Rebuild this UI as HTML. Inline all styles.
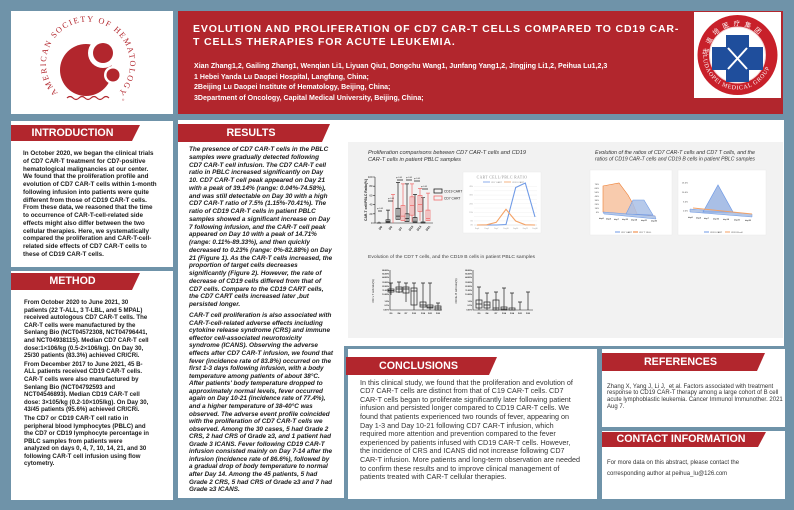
<!DOCTYPE html>
<html><head><meta charset="utf-8">
<style>
*{margin:0;padding:0;box-sizing:border-box}
body{width:794px;height:510px;background:#6f93a9;position:relative;overflow:hidden;font-family:"Liberation Sans",Arial,sans-serif}
.p{position:absolute;background:#fff}
.bar{position:absolute;background:#b2262d;clip-path:polygon(0 0,100% 0,calc(100% - 8px) 100%,0 100%);color:#fff;font-weight:bold;font-size:10.7px;text-align:center;white-space:nowrap;padding-right:6px}
.t{position:absolute;white-space:nowrap;color:#1c1c1c}
</style></head><body>

<!-- panels -->
<div class="p" style="left:11px;top:11px;width:162px;height:103px"></div>
<div class="p" style="left:178px;top:11px;width:605px;height:103px;background:#b2262d"></div>
<div class="p" style="left:11px;top:121px;width:162px;height:146px"></div>
<div class="p" style="left:11px;top:271px;width:162px;height:229px"></div>
<div class="p" style="left:178px;top:120px;width:606px;height:226px"></div>
<div class="p" style="left:178px;top:300px;width:166px;height:198px"></div>
<div class="p" style="left:348px;top:349px;width:249px;height:150px"></div>
<div class="p" style="left:602px;top:349px;width:183px;height:78px"></div>
<div class="p" style="left:602px;top:431px;width:183px;height:68px"></div>

<!-- title -->
<div class="t" style="left:193px;top:22.5px;color:#fff;font-weight:bold;font-size:10.5px;letter-spacing:0.85px;line-height:13px">EVOLUTION AND PROLIFERATION OF CD7 CAR-T CELLS COMPARED TO CD19 CAR-<br>T CELLS THERAPIES FOR ACUTE LEUKEMIA.</div>
<div class="t" style="left:194px;top:62px;color:#fff;font-weight:bold;font-size:7.05px;line-height:10.5px">Xian Zhang1,2, Gailing Zhang1, Wenqian Li1, Liyuan Qiu1, Dongchu Wang1, Junfang Yang1,2, Jingjing Li1,2, Peihua Lu1,2,3<br>1 Hebei Yanda Lu Daopei Hospital, Langfang, China;<br>2Beijing Lu Daopei Institute of Hematology, Beijing, China;<br>3Department of Oncology, Capital Medical University, Beijing, China;</div>

<!-- header bars -->
<div class="bar" style="left:11px;top:125px;width:129px;height:16px;line-height:16px">INTRODUCTION</div>
<div class="bar" style="left:11px;top:273px;width:129px;height:17px;line-height:17px">METHOD</div>
<div class="bar" style="left:178px;top:124px;width:152px;height:18px;line-height:18px">RESULTS</div>
<div class="bar" style="left:346px;top:357px;width:151px;height:18px;line-height:18px">CONCLUSIONS</div>
<div class="bar" style="left:602px;top:353px;width:163px;height:18px;line-height:18px">REFERENCES</div>
<div class="bar" style="left:602px;top:432px;width:164px;height:15px;line-height:15px">CONTACT INFORMATION</div>

<!-- intro -->
<div class="t" style="left:23px;top:150px;font-weight:bold;font-size:6.3px;line-height:7.75px">In October 2020, we began the clinical trials<br>of CD7 CAR-T treatment for CD7-positive<br>hematological malignancies at our center.<br>We found that the proliferation profile and<br>evolution of CD7 CAR-T cells within 1-month<br>following infusion into patients were quite<br>different from those of CD19 CAR-T cells.<br>From these data, we reasoned that the time<br>to occurrence of CAR-T-cell-related side<br>effects might also differ between the two<br>cellular therapies. Here, we systematically<br>compared the proliferation and CAR-T-cell-<br>related side effects of CD7 CAR-T cells to<br>these of CD19 CAR-T cells.</div>

<!-- method -->
<div class="t" style="left:24px;top:299px;font-weight:bold;font-size:6.1px;line-height:7.6px">
<div>From October 2020 to June 2021, 30<br>patients (22 T-ALL, 3 T-LBL, and 5 MPAL)<br>received autologous CD7 CAR-T cells. The<br>CAR-T cells were manufactured by the<br>Senlang Bio (NCT04572308, NCT04796441,<br>and NCT04938115). Median CD7 CAR-T cell<br>dose:1×106/kg (0.5-2×106/kg). On Day 30,<br>25/30 patients (83.3%) achieved CR/CRi.</div>
<div style="margin-top:1px">From December 2017 to June 2021, 45 B-<br>ALL patients received CD19 CAR-T cells.<br>CAR-T cells were also manufactured by<br>Senlang Bio (NCT04792593 and<br>NCT04546893). Median CD19 CAR-T cell<br>dose: 3×105/kg (0.2-10×105/kg). On Day 30,<br>43/45 patients (95.6%) achieved CR/CRi.</div>
<div style="margin-top:1px">The CD7 or CD19 CAR-T cell ratio in<br>peripheral blood lymphocytes (PBLC) and<br>the CD7 or CD19 lymphocyte percentage in<br>PBLC samples from patients were<br>analyzed on days 0, 4, 7, 10, 14, 21, and 30<br>following CAR-T cell infusion using flow<br>cytometry.</div>
</div>

<!-- results -->
<div class="t" style="left:189px;top:146px;font-weight:bold;font-style:italic;font-size:6.4px;line-height:7.75px">The presence of CD7 CAR-T cells in the PBLC<br>samples were gradually detected following<br>CD7 CAR-T cell infusion. The CD7 CAR-T cell<br>ratio in PBLC increased significantly on Day<br>10. CD7 CAR-T cell peak appeared on Day 21<br>with a peak of 39.14% (range: 0.04%-74.58%),<br>and was still detectable on Day 30 with a high<br>CD7 CAR-T ratio of 7.5% (1.15%-70.41%). The<br>ratio of CD19 CAR-T cells in patient PBLC<br>samples showed a significant increase on Day<br>7 following infusion, and the CAR-T cell peak<br>appeared on Day 10 with a peak of 14.71%<br>(range: 0.11%-89.33%), and then quickly<br>decreased to 0.23% (range: 0%-82.88%) on Day<br>21 (Figure 1). As the CAR-T cells increased, the<br>proportion of target cells decreases<br>significantly (Figure 2). However, the rate of<br>decrease of CD19 cells differed from that of<br>CD7 cells. Compare to the CD19 CART cells,<br>the CD7 CART cells increased later ,but<br>persisted longer.</div>
<div class="t" style="left:189px;top:312.2px;font-weight:bold;font-style:italic;font-size:6.4px;line-height:7.57px">CAR-T cell proliferation is also associated with<br>CAR-T-cell-related adverse effects including<br>cytokine release syndrome (CRS) and immune<br>effector cell-associated neurotoxicity<br>syndrome (ICANS). Observing the adverse<br>effects after CD7 CAR-T infusion, we found that<br>fever (incidence rate of 83.8%) occurred on the<br>first 1-3 days following infusion, with a body<br>temperature among patients of about 38°C.<br>After patients' body temperature dropped to<br>approximately normal levels, fever occurred<br>again on Day 10-21 (incidence rate of 77.4%),<br>and a higher temperature of 38-40°C was<br>observed. The adverse event profile coincided<br>with the proliferation of CD7 CAR-T cells we<br>observed. Among the 30 cases, 5 had Grade 2<br>CRS, 2 had CRS of Grade ≥3, and 1 patient had<br>Grade 3 ICANS. Fever following CD19 CAR-T<br>infusion consisted mainly on Day 7-14 after the<br>infusion (incidence rate of 86.6%), followed by<br>a gradual drop of body temperature to normal<br>after Day 14. Among the 45 patients, 5 had<br>Grade 2 CRS, 5 had CRS of Grade ≥3 and 7 had<br>Grade ≥3 ICANS.</div>

<!-- conclusions -->
<div class="t" style="left:360px;top:378.7px;font-size:7.2px;line-height:8.6px;color:#333">In this clinical study, we found that the proliferation and evolution of<br>CD7 CAR-T cells are distinct from that of C19 CAR-T cells. CD7<br>CAR-T cells began to proliferate significantly later following patient<br>infusion and persisted longer compared to CD19 CAR-T cells. We<br>found that patients experienced two rounds of fever, appearing on<br>Day 1-3 and Day 10-21 following CD7 CAR-T infusion, which<br>required more attention and prevention compared to the fever<br>experienced by patients infused with CD19 CAR-T cells. However,<br>the incidence of CRS and ICANS did not increase following CD7<br>CAR-T infusion. More patients and long-term observation are needed<br>to confirm these results and to improve clinical management of<br>patients treated with CAR-T cellular therapies.</div>

<!-- references -->
<div class="t" style="left:607px;top:383.5px;font-size:6px;line-height:6.9px;color:#333">Zhang X, Yang J, Li J,&nbsp; et al. Factors associated with treatment<br>response to CD19 CAR-T therapy among a large cohort of B cell<br>acute lymphoblastic leukemia. Cancer Immunol Immunother. 2021<br>Aug 7.</div>
<div class="t" style="left:607px;top:457.5px;font-size:6px;line-height:11px;color:#333">For more data on this abstract, please contact the<br>corresponding author at peihua_lu@126.com</div>

<svg width="794" height="510" style="position:absolute;left:0;top:0" font-family="Liberation Sans, Arial, sans-serif">
<defs>
<path id="ashp" d="M58,93 A42,42 0 1,1 118,93"/>
<path id="ldt" d="M708,55 A29.5,29.5 0 0,1 767,55"/>
<path id="ldb" d="M703,55 A34.5,34.5 0 0,0 772,55"/>
</defs>
<!-- ASH logo -->
<g fill="#b2262d">
<circle cx="86" cy="70" r="26"/>
<circle cx="103" cy="53" r="15" fill="#fff"/>
<circle cx="103" cy="53" r="10"/>
<circle cx="113" cy="75" r="9" fill="#fff"/>
<circle cx="113" cy="75" r="6.5"/>
<text font-family="Liberation Serif, serif" font-size="8.2"><textPath href="#ashp" textLength="196" lengthAdjust="spacing">AMERICAN SOCIETY OF HEMATOLOGY</textPath></text>
<path d="M67,98 q3,-3 6,0 q3,3 6,0 q3,-3 6,0 q3,3 6,0 q3,-3 6,0 q3,3 6,0 q3,-3 6,0" fill="none" stroke="#b2262d" stroke-width="1.2"/>
<text x="122" y="101" font-size="3">®</text>
</g>
<!-- Ludaopei logo -->
<rect x="694" y="12" width="87" height="86" fill="#fff"/>
<circle cx="737.5" cy="55" r="40" fill="#c8202a"/>
<circle cx="737.5" cy="55" r="28" fill="#fff" stroke="#f3d0d0" stroke-width="1"/>
<rect x="726" y="35" width="23" height="47" fill="#1f4e9c"/>
<rect x="712" y="47" width="51" height="23" fill="#1f4e9c"/>
<path d="M728,48 L747,69 M747,48 L728,69" stroke="#fff" stroke-width="2"/>
<text font-family="Noto Sans CJK SC, sans-serif" font-size="6.5" fill="#fff"><textPath href="#ldt" textLength="70" lengthAdjust="spacing">陆道培医疗集团</textPath></text>
<text font-family="Liberation Serif, serif" font-size="6" fill="#fff"><textPath href="#ldb" textLength="95" lengthAdjust="spacing">LUDAOPEI MEDICAL GROUP</textPath></text>

<!-- chart panel -->
<rect x="348" y="142" width="435" height="196" fill="#f2f2f2"/>

<!-- chart 1 -->
<g font-style="italic" fill="#333" font-size="5.6">
<text x="368" y="154" textLength="158" lengthAdjust="spacingAndGlyphs">Proliferation comparisons between CD7 CAR-T cells and CD19</text>
<text x="368" y="161" textLength="93" lengthAdjust="spacingAndGlyphs">CAR-T cells in patient PBLC samples</text>
<text x="595" y="154" textLength="160" lengthAdjust="spacingAndGlyphs" font-size="5">Evolution of the ratios of CD7 CAR-T cells and CD7 T cells, and the</text>
<text x="595" y="160.5" textLength="160" lengthAdjust="spacingAndGlyphs" font-size="5">ratios of CD19 CAR-T cells and CD19 B cells in patient PBLC samples</text>
</g>
<g stroke="#222" stroke-width="0.6" fill="none">
<path d="M375,177 V223 H433"/>
<path d="M373,177 h2 M373,186.2 h2 M373,195.4 h2 M373,204.6 h2 M373,213.8 h2 M373,223 h2"/>
</g>
<g font-size="2.8" fill="#222" text-anchor="end">
<text x="372.5" y="178">100</text><text x="372.5" y="187.2">80</text><text x="372.5" y="196.4">60</text><text x="372.5" y="205.6">40</text><text x="372.5" y="214.8">20</text><text x="372.5" y="224">0</text>
</g>
<text transform="translate(367,200) rotate(-90)" font-size="3.4" fill="#222" text-anchor="middle" font-weight="bold">CAR-T cell/PBLC Ratio(%)</text>
<!-- black boxes -->
<g stroke="#222" stroke-width="0.7" fill="none">
<path d="M379,223 V221.6 M388,223 V210.1 M398,219.3 V182.5 M407,221.6 V183.9 M415,222.5 V194.5 M423,223 V197.7"/>
<rect x="386" y="219.8" width="4" height="2.7"/>
<rect x="396" y="208.3" width="4" height="11"/>
<rect x="405" y="213.8" width="4" height="7.8"/>
<rect x="413" y="217.5" width="4" height="5"/>
<rect x="421" y="222" width="4" height="1"/>
<path d="M386,221.6 h4 M396,216.1 h4 M405,218.4 h4 M413,221.2 h4 M377,223 h4"/>
<path d="M386,210.1 h4 M396,182.5 h4 M405,183.9 h4 M413,194.5 h4 M421,197.7 h4"/>
</g>
<!-- red boxes -->
<g stroke="#f06a6a" stroke-width="0.7" fill="none">
<path d="M393,223 V194.5 M403,220.7 V183.9 M412,222 V183.9 M420,220.7 V188.5 M428,220.7 V193.1"/>
<rect x="401" y="205.5" width="4" height="15.2"/>
<rect x="410" y="196.8" width="4" height="18.4"/>
<rect x="418" y="195.4" width="4" height="16"/>
<rect x="426" y="210.1" width="4" height="10.6"/>
<path d="M401,216.1 h4 M410,205.5 h4 M418,204.6 h4 M426,218.4 h4"/>
<path d="M391,194.5 h4 M401,183.9 h4 M410,183.9 h4 M418,188.5 h4 M426,193.1 h4"/>
</g>
<g stroke="#222" stroke-width="0.8">
<path d="M378,211 h4 M388,201 h5 M397,180 h6 M406,180 h6 M414,181 h6 M422,189 h6"/>
</g>
<g font-size="2" fill="#222">
<text x="377" y="209">p&lt;0.05</text><text x="388" y="199">p&lt;0.05</text><text x="396" y="178">p&lt;0.05</text><text x="406" y="178">p&lt;0.05</text><text x="414" y="179">p&lt;0.05</text><text x="421" y="187">p&lt;0.05</text>
</g>
<g font-size="3" fill="#222" font-weight="bold">
<text transform="translate(380,230) rotate(-50)">D0</text>
<text transform="translate(390,230) rotate(-50)">D4</text>
<text transform="translate(400,231) rotate(-50)">D7</text>
<text transform="translate(410,231) rotate(-50)">D10</text>
<text transform="translate(418,231) rotate(-50)">D14</text>
<text transform="translate(427,231) rotate(-50)">D21</text>
</g>
<rect x="434" y="189" width="8" height="4" fill="none" stroke="#222" stroke-width="0.8"/>
<rect x="434" y="196" width="8" height="4" fill="none" stroke="#f06a6a" stroke-width="0.8"/>
<text x="444" y="192.5" font-size="3.3" fill="#222">CD19 CART</text>
<text x="444" y="199.5" font-size="3.3" fill="#222">CD7 CART</text>

<!-- line chart -->
<rect x="463" y="172" width="78" height="61" fill="#fff" stroke="#e6e6e6" stroke-width="0.4"/>
<text x="502" y="178.5" font-size="3.6" fill="#8c8c8c" text-anchor="middle" font-family="Liberation Serif, serif" letter-spacing="0.5">CART CELL/PBLC RATIO</text>
<path d="M483,182 h7" stroke="#6f9ae6" stroke-width="0.8"/><text x="491" y="183" font-size="2.2" fill="#888">CD7 CART</text>
<path d="M504,182 h7" stroke="#f4a266" stroke-width="0.8"/><text x="512" y="183" font-size="2.2" fill="#888">CD19 CART</text>
<g stroke="#ececec" stroke-width="0.4">
<path d="M474,186.5 H537 M474,190.8 H537 M474,195.1 H537 M474,199.4 H537 M474,203.7 H537 M474,208 H537 M474,212.3 H537 M474,216.6 H537 M474,220.9 H537"/>
</g>
<path d="M474,225 H537" stroke="#d0d0d0" stroke-width="0.5"/>
<g font-size="1.8" fill="#999" text-anchor="end">
<text x="473" y="187">45%</text><text x="473" y="195.7">35%</text><text x="473" y="204.3">25%</text><text x="473" y="212.9">15%</text><text x="473" y="221.5">5%</text><text x="473" y="225.6">0%</text>
</g>
<g font-size="1.8" fill="#999" text-anchor="middle">
<text x="477" y="229">Day0</text><text x="486.7" y="229">Day4</text><text x="496.3" y="229">Day7</text><text x="506" y="229">Day10</text><text x="515.7" y="229">Day14</text><text x="525.3" y="229">Day21</text><text x="535" y="229">Day30</text>
</g>
<polyline points="477,225 486.7,225 496.3,225 506,224.5 515.7,187.5 525.3,183 535,217" fill="none" stroke="#6f9ae6" stroke-width="1.1"/>
<polyline points="477,225 486.7,224.8 496.3,222.3 506,209.3 515.7,221 525.3,224.8 535,225" fill="none" stroke="#f4a266" stroke-width="1.1"/>

<!-- chart 2 left -->
<rect x="590" y="170" width="82" height="65" fill="#fff" stroke="#e6e6e6" stroke-width="0.4"/>
<polygon points="603,212 603,186 619,183 628,195 633,204 637,214 655,216 655,218" fill="#f8cbad" stroke="#ed7d31" stroke-width="0.6"/>
<polygon points="603,212 655,216 656,219 604,214" fill="#b4c7e7" stroke="#6f9ae6" stroke-width="0.5"/>
<polygon points="626,214 633,200 644,200 653,215" fill="#a9bfe6" fill-opacity="0.85" stroke="#6f9ae6" stroke-width="0.6"/>
<g font-size="2.2" fill="#444" text-anchor="end">
<text x="599" y="185">70%</text><text x="599" y="189">60%</text><text x="599" y="193">50%</text><text x="599" y="197">40%</text><text x="599" y="201">30%</text><text x="599" y="205">20%</text><text x="599" y="209">10%</text><text x="599" y="213">0%</text>
</g>
<g font-size="2.1" fill="#444" font-weight="bold">
<text x="599" y="219">day0</text><text x="606" y="219.5">day4</text><text x="614" y="220">day7</text><text x="622" y="220">day10</text><text x="631" y="220.5">day14</text><text x="641" y="221">day21</text><text x="651" y="221.5">day30</text>
</g>
<path d="M615,232 h5" stroke="#6f9ae6" stroke-width="1"/><text x="621" y="233" font-size="2.2" fill="#444">CD7 CART</text>
<path d="M633,232 h5" stroke="#ed7d31" stroke-width="1"/><text x="639" y="233" font-size="2.2" fill="#444">CD7 T CELL</text>

<!-- chart 2 right -->
<rect x="678" y="170" width="88" height="65" fill="#fff" stroke="#e6e6e6" stroke-width="0.4"/>
<polygon points="690,209 752,214 752,217 690,212" fill="#b4c7e7" stroke="#6f9ae6" stroke-width="0.5"/>
<polygon points="703,212 718,185 733,212" fill="#a9bfe6" stroke="#6f9ae6" stroke-width="0.7"/>
<path d="M693,208 L752,214" stroke="#f4a266" stroke-width="1"/>
<g font-size="2.2" fill="#444" text-anchor="end">
<text x="688" y="183.5">15.0%</text><text x="688" y="193">10.0%</text><text x="688" y="202.5">5.0%</text><text x="688" y="211.5">0.0%</text>
</g>
<g font-size="2.1" fill="#444" font-weight="bold">
<text x="688" y="218">day0</text><text x="696" y="218.5">day4</text><text x="704" y="219">day7</text><text x="713" y="219.5">day10</text><text x="723" y="220">day14</text><text x="734" y="220.5">day21</text><text x="745" y="221">day30</text>
</g>
<path d="M704,232 h5" stroke="#6f9ae6" stroke-width="1"/><text x="710" y="233" font-size="2.2" fill="#444">CD19 CART</text>
<path d="M725,232 h5" stroke="#f4a266" stroke-width="1"/><text x="731" y="233" font-size="2.2" fill="#444">CD19 B cell</text>

<!-- chart 3 -->
<text x="368" y="258" font-size="4.8" fill="#444" textLength="167" lengthAdjust="spacingAndGlyphs">Evolution of the CD7 T cells, and the CD19 B cells in patient PBLC samples</text>
<g stroke="#222" stroke-width="0.6" fill="none">
<path d="M390,270 V310 H442"/>
<path d="M473,270 V310 H533"/>
</g>
<g font-size="2" fill="#222" text-anchor="end" font-weight="bold">
<text x="389" y="271">88.00%</text><text x="389" y="274.5">66.00%</text><text x="389" y="278">44.00%</text><text x="389" y="283">33.00%</text><text x="389" y="287">22.00%</text><text x="389" y="291">11.00%</text><text x="389" y="295">10.00%</text><text x="389" y="302">1.0%</text><text x="389" y="306">0.1%</text><text x="389" y="310.5">0.01%</text>
<text x="472" y="271">88.00%</text><text x="472" y="274.5">66.00%</text><text x="472" y="278">44.00%</text><text x="472" y="283">33.00%</text><text x="472" y="287">22.00%</text><text x="472" y="291">11.00%</text><text x="472" y="295">10.00%</text><text x="472" y="302">1.0%</text><text x="472" y="306">0.1%</text><text x="472" y="310.5">0.01%</text>
</g>
<text transform="translate(374,291) rotate(-90)" font-size="2.6" fill="#222" text-anchor="middle">CD7+ T cell ratio(%)</text>
<text transform="translate(457,291) rotate(-90)" font-size="2.6" fill="#222" text-anchor="middle">CD19+ B cell ratio(%)</text>
<g stroke="#222" stroke-width="0.7" fill="none">
<path d="M391,283 V295 M399,282 V293 M406,283 V302 M414,283 V310 M423,283 V310 M430,283 V310 M438,303 V310"/>
<path d="M389,283 h4 M397,282 h4 M404,283 h4 M412,283 h4 M421,283 h4 M428,283 h4 M436,303 h4"/>
<rect x="388" y="289" width="6" height="3"/>
<rect x="396" y="287" width="6" height="5"/>
<rect x="403" y="287" width="6" height="6"/>
<rect x="411" y="288" width="6" height="17"/>
<rect x="420" y="302" width="6" height="5"/>
<rect x="427" y="305" width="6" height="3"/>
<rect x="435" y="306" width="6" height="4"/>
<path d="M388,290.5 h6 M396,289 h6 M403,289 h6 M411,291 h6 M420,305 h6 M427,307 h6 M435,308 h6"/>
<path d="M479,287 V310 M487,293 V310 M496,292 V310 M504,288 V310 M512,293 V310 M520,302 V310 M528,292 V310"/>
<path d="M477,287 h4 M485,293 h4 M494,292 h4 M502,288 h4 M510,293 h4 M518,302 h4 M526,292 h4"/>
<rect x="476" y="300" width="6" height="8"/>
<rect x="484" y="302" width="6" height="6"/>
<rect x="493" y="300" width="6" height="10"/>
<rect x="501" y="307" width="6" height="3"/>
<rect x="509" y="308" width="6" height="2"/>
<path d="M476,304 h6 M484,305 h6 M493,308 h6 M501,309 h6"/>
</g>
<g font-size="2.2" fill="#222" text-anchor="middle" font-weight="bold">
<text x="391" y="314">D0</text><text x="399" y="314">D4</text><text x="406" y="314">D7</text><text x="414" y="314">D10</text><text x="423" y="314">D14</text><text x="430" y="314">D21</text><text x="438" y="314">D30</text>
<text x="479" y="314">D0</text><text x="487" y="314">D4</text><text x="496" y="314">D7</text><text x="504" y="314">D14</text><text x="512" y="314">D14</text><text x="520" y="314">D21</text><text x="528" y="314">D30</text>
</g>
</svg>
</body></html>
